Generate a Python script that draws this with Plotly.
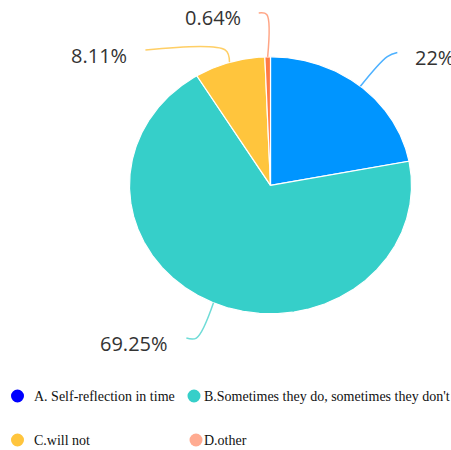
import numpy as np
import plotly.graph_objects as go

# ---------------- data ----------------
categories = ["A. Self-reflection in time",
              "B.Sometimes they do, sometimes they don't",
              "C.will not",
              "D.other"]
values = [22.0, 69.25, 8.11, 0.64]
value_labels = ["22%", "69.25%", "8.11%", "0.64%"]

# ---------------- style ----------------
slice_colors = ["#0095FF", "#36CFC9", "#FFC53D", "#FF7A45"]
line_colors = ["#4DB1FF", "#6FDCD7", "#FFCF66", "#FFA585"]
legend_colors = ["#0000FF", "#36CFC9", "#FFC53D", "#FFAB91"]

W, H = 451, 450
CX, CY, RX, RY = 270.5, 185.3, 141.0, 128.5   # pie centre / radii in px

leader_radial = [1.30, 1.30, 1.10, 1.33]    # how far the leader goes out
leader_horiz = [10, 10, 80, 8]               # horizontal tail in px
leader_rise = [4, 0, 0, 1.5]                 # tail rise in px
label_gap = 16                               # px between tail and label

legend_pos = [(17.5, 396, 31.7), (194, 396, 201.7), (17.5, 440, 31.7), (196, 440, 202)]


def to_u(px):
    return (px - CX) / RX


def to_v(py):
    return (CY - py) / RY


fig = go.Figure()

total = sum(values)
cum = np.concatenate([[0], np.cumsum(values)]) / total * 360.0

# slices
for i, cat in enumerate(categories):
    a0, a1 = cum[i], cum[i + 1]
    n = max(int((a1 - a0) * 2), 2)
    th = np.radians(np.linspace(a0, a1, n))
    xs = np.concatenate([[0], np.sin(th), [0]])
    ys = np.concatenate([[0], np.cos(th), [0]])
    fig.add_trace(go.Scatter(x=xs, y=ys, mode="lines", fill="toself",
                             fillcolor=slice_colors[i],
                             line=dict(color="white", width=1.2),
                             hoverinfo="skip", showlegend=False, name=cat))

# leader lines + labels
for i, lab in enumerate(value_labels):
    mid = np.radians((cum[i] + cum[i + 1]) / 2)
    s = 1 if np.sin(mid) > 0 else -1
    p0 = (np.sin(mid), np.cos(mid))
    r = leader_radial[i]
    p1 = (r * np.sin(mid), r * np.cos(mid))
    p2 = (p1[0] + s * leader_horiz[i] / RX, p1[1] + leader_rise[i] / RY)
    fig.add_trace(go.Scatter(x=[p0[0], p1[0], p2[0]], y=[p0[1], p1[1], p2[1]],
                             mode="lines", line=dict(color=line_colors[i], width=1.5,
                                                     shape="spline", smoothing=1.0),
                             hoverinfo="skip", showlegend=False))
    fig.add_annotation(x=p2[0] + s * label_gap / RX, y=p2[1] - 5 / RY,
                       xref="x", yref="y", text=lab, showarrow=False,
                       xanchor="left" if s > 0 else "right", yanchor="middle",
                       font=dict(family="Open Sans, Noto Sans, sans-serif", size=20,
                                 color="#333333"))

# legend (manual, to mimic the original layout)
for i, cat in enumerate(categories):
    mx, my, tx = legend_pos[i]
    fig.add_shape(type="circle", xref="paper", yref="paper",
                  x0=(mx - 6.5) / W, x1=(mx + 6.5) / W,
                  y0=1 - (my + 6.5) / H, y1=1 - (my - 6.5) / H,
                  fillcolor=legend_colors[i], line=dict(width=0))
    fig.add_annotation(x=tx / W, y=1 - my / H, xref="paper", yref="paper",
                       text=cat, showarrow=False, xanchor="left", yanchor="middle",
                       font=dict(family="Liberation Serif, Times New Roman, serif",
                                 size=14, color="#111111"))

fig.update_xaxes(range=[to_u(0), to_u(W)], visible=False, fixedrange=True)
fig.update_yaxes(range=[to_v(H), to_v(0)], visible=False, fixedrange=True)
fig.update_layout(width=W, height=H, margin=dict(l=0, r=0, t=0, b=0),
                  paper_bgcolor="white", plot_bgcolor="white", showlegend=False)

fig.write_html("out.html", config={"displayModeBar": False},
               post_script="document.body.style.margin='0';document.body.style.overflow='hidden';")
